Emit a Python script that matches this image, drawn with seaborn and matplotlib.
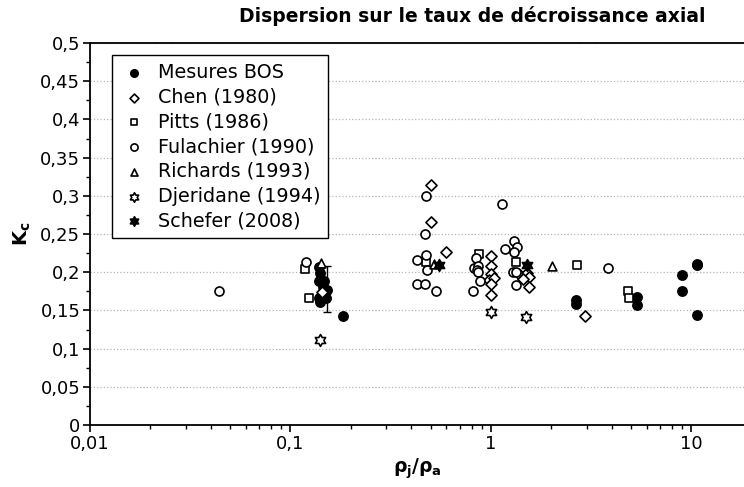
import numpy as np
import pandas as pd
import matplotlib
matplotlib.use("Agg")
import matplotlib.pyplot as plt
from matplotlib.path import Path
from matplotlib.ticker import FixedLocator, FuncFormatter, MultipleLocator, LogLocator, NullFormatter
import seaborn as sns

# ---- data: density ratio rho_j/rho_a and axial decay rate K_c ----
bos_x = [0.138, 0.140, 0.138, 0.147, 0.152, 0.145, 0.138, 0.150, 0.140, 0.145, 0.182,
         2.67, 2.67, 5.37, 5.37, 9.0, 9.0, 10.7, 10.7, 10.7]
bos_y = [0.207, 0.199, 0.188, 0.188, 0.177, 0.172, 0.166, 0.166, 0.161, 0.181, 0.143,
         0.163, 0.158, 0.167, 0.157, 0.196, 0.175, 0.209, 0.211, 0.144]

chen_x = [0.143, 0.50, 0.50, 0.597, 1.0, 1.0, 1.0, 0.98, 1.03, 1.0, 1.0,
          1.39, 1.51, 1.55, 1.45, 1.55, 2.94]
chen_y = [0.174, 0.314, 0.266, 0.227, 0.221, 0.208, 0.197, 0.190, 0.192, 0.185, 0.170,
          0.196, 0.199, 0.194, 0.191, 0.180, 0.143]

pitts_x = [0.118, 0.123, 0.475, 0.87, 1.34, 2.69, 4.84, 4.90]
pitts_y = [0.204, 0.166, 0.214, 0.224, 0.214, 0.209, 0.175, 0.166]

fula_x = [0.0442, 0.120, 0.475, 0.469, 0.475, 0.43, 0.48, 0.43, 0.469, 0.53,
          0.84, 0.82, 0.86, 0.85, 0.86, 0.88, 0.81,
          1.14, 1.30, 1.35, 1.18, 1.31, 1.29, 1.34, 1.34, 3.82]
fula_y = [0.176, 0.214, 0.300, 0.250, 0.223, 0.216, 0.203, 0.184, 0.184, 0.175,
          0.219, 0.205, 0.208, 0.203, 0.200, 0.188, 0.175,
          0.289, 0.241, 0.233, 0.230, 0.227, 0.200, 0.200, 0.183, 0.206]

rich_x = [0.142, 0.52, 2.01]
rich_y = [0.212, 0.211, 0.208]

djer_x = [0.140, 1.0, 1.50]
djer_y = [0.111, 0.148, 0.142]

schef_x = [0.552, 1.51]
schef_y = [0.210, 0.210]

# measurement uncertainty on one BOS point
err_x = [0.1515]
err_y = [0.178]
err_dy = [0.030]

x_ticks = [0.01, 0.1, 1, 10]
x_ticklabels = ["0,01", "0,1", "1", "10"]

# ---- six-pointed star marker (outline of two overlapping triangles) ----
ang = np.deg2rad(np.arange(12) * 30 + 90)
rad = np.where(np.arange(12) % 2 == 0, 1.0, 1.0 / np.sqrt(3))
verts = np.column_stack([rad * np.cos(ang), rad * np.sin(ang)])
verts = np.vstack([verts, verts[:1]])
codes = [Path.MOVETO] + [Path.LINETO] * 11 + [Path.CLOSEPOLY]
hexagram = Path(verts, codes)

frames = []
for name, xs, ys in [
    ("Mesures BOS", bos_x, bos_y),
    ("Chen (1980)", chen_x, chen_y),
    ("Pitts (1986)", pitts_x, pitts_y),
    ("Fulachier (1990)", fula_x, fula_y),
    ("Richards (1993)", rich_x, rich_y),
    ("Djeridane (1994)", djer_x, djer_y),
    ("Schefer (2008)", schef_x, schef_y),
]:
    frames.append(pd.DataFrame({"rho": xs, "kc": ys, "source": name}))
df = pd.concat(frames, ignore_index=True)

styles = {
    "Mesures BOS": dict(marker="o", facecolor="black", s=44),
    "Chen (1980)": dict(marker="D", facecolor="white", s=32),
    "Pitts (1986)": dict(marker="s", facecolor="white", s=36),
    "Fulachier (1990)": dict(marker="o", facecolor="white", s=42),
    "Richards (1993)": dict(marker="^", facecolor="white", s=40),
    "Djeridane (1994)": dict(marker=hexagram, facecolor="white", s=72),
    "Schefer (2008)": dict(marker=hexagram, facecolor="black", s=72),
}

sns.set_style("ticks")
plt.rcParams["font.family"] = ["DejaVu Sans"]
plt.rcParams["text.color"] = "black"
plt.rcParams["axes.labelcolor"] = "black"
plt.rcParams["axes.titlecolor"] = "black"
plt.rcParams["mathtext.fontset"] = "custom"
plt.rcParams["mathtext.rm"] = "DejaVu Sans:bold"
plt.rcParams["mathtext.it"] = "DejaVu Sans:bold"
plt.rcParams["mathtext.bf"] = "DejaVu Sans:bold"

fig = plt.figure(figsize=(7.44, 4.87), dpi=100)
ax = fig.add_axes([0.121, 0.1273, 0.879, 0.7844])

for name, sub in df.groupby("source", sort=False):
    st = styles[name]
    sns.scatterplot(data=sub, x="rho", y="kc", ax=ax, marker=st["marker"], s=st["s"],
                    color=st["facecolor"], edgecolor="black", linewidth=1.2,
                    label=name, zorder=3)

ax.errorbar(err_x, err_y, yerr=err_dy, fmt="none", ecolor="black", elinewidth=1.0,
            capsize=3, capthick=1.0, zorder=2)

ax.set_xscale("log")
ax.set_xlim(0.01, 18.3)
ax.set_ylim(0, 0.5)

ax.xaxis.set_major_locator(FixedLocator(x_ticks))
ax.xaxis.set_major_formatter(FuncFormatter(lambda v, p: x_ticklabels[x_ticks.index(v)] if v in x_ticks else ""))
ax.xaxis.set_minor_locator(LogLocator(base=10, subs=np.arange(2, 10)))
ax.xaxis.set_minor_formatter(NullFormatter())
ax.yaxis.set_major_locator(MultipleLocator(0.05))
ax.yaxis.set_minor_locator(MultipleLocator(0.025))
ax.yaxis.set_major_formatter(FuncFormatter(lambda v, p: f"{round(v, 3):g}".replace(".", ",")))

ax.tick_params(axis="both", which="major", direction="out", length=5, width=1.2,
               labelsize=13, color="black", labelcolor="black", pad=2)
ax.tick_params(axis="both", which="minor", direction="out", length=3, width=1, color="black")

ax.yaxis.grid(True, which="major", linestyle=":", color="#b5b5b5", linewidth=0.9)
ax.xaxis.grid(False)
ax.set_axisbelow(True)

for side in ["left", "bottom", "top"]:
    ax.spines[side].set_visible(True)
    ax.spines[side].set_color("black")
    ax.spines[side].set_linewidth(1.3)
ax.spines["right"].set_visible(False)

ax.set_title("Dispersion sur le taux de décroissance axial", fontsize=13.5, fontweight="bold",
             pad=15, x=0.584)
ax.set_xlabel(r"$\rho_j/\rho_a$", fontsize=13.5, labelpad=3)
ax.set_ylabel(r"$K_c$", fontsize=14, labelpad=5)

leg = ax.legend(loc="upper left", bbox_to_anchor=(0.033, 0.968), frameon=True, fancybox=False,
                edgecolor="black", framealpha=1, fontsize=13.8, borderpad=0.4,
                handlelength=1.5, handletextpad=0.5, labelspacing=0.3, borderaxespad=0,
                markerscale=0.8)
leg.get_frame().set_linewidth(1.0)

fig.savefig("out.png", dpi=100)
